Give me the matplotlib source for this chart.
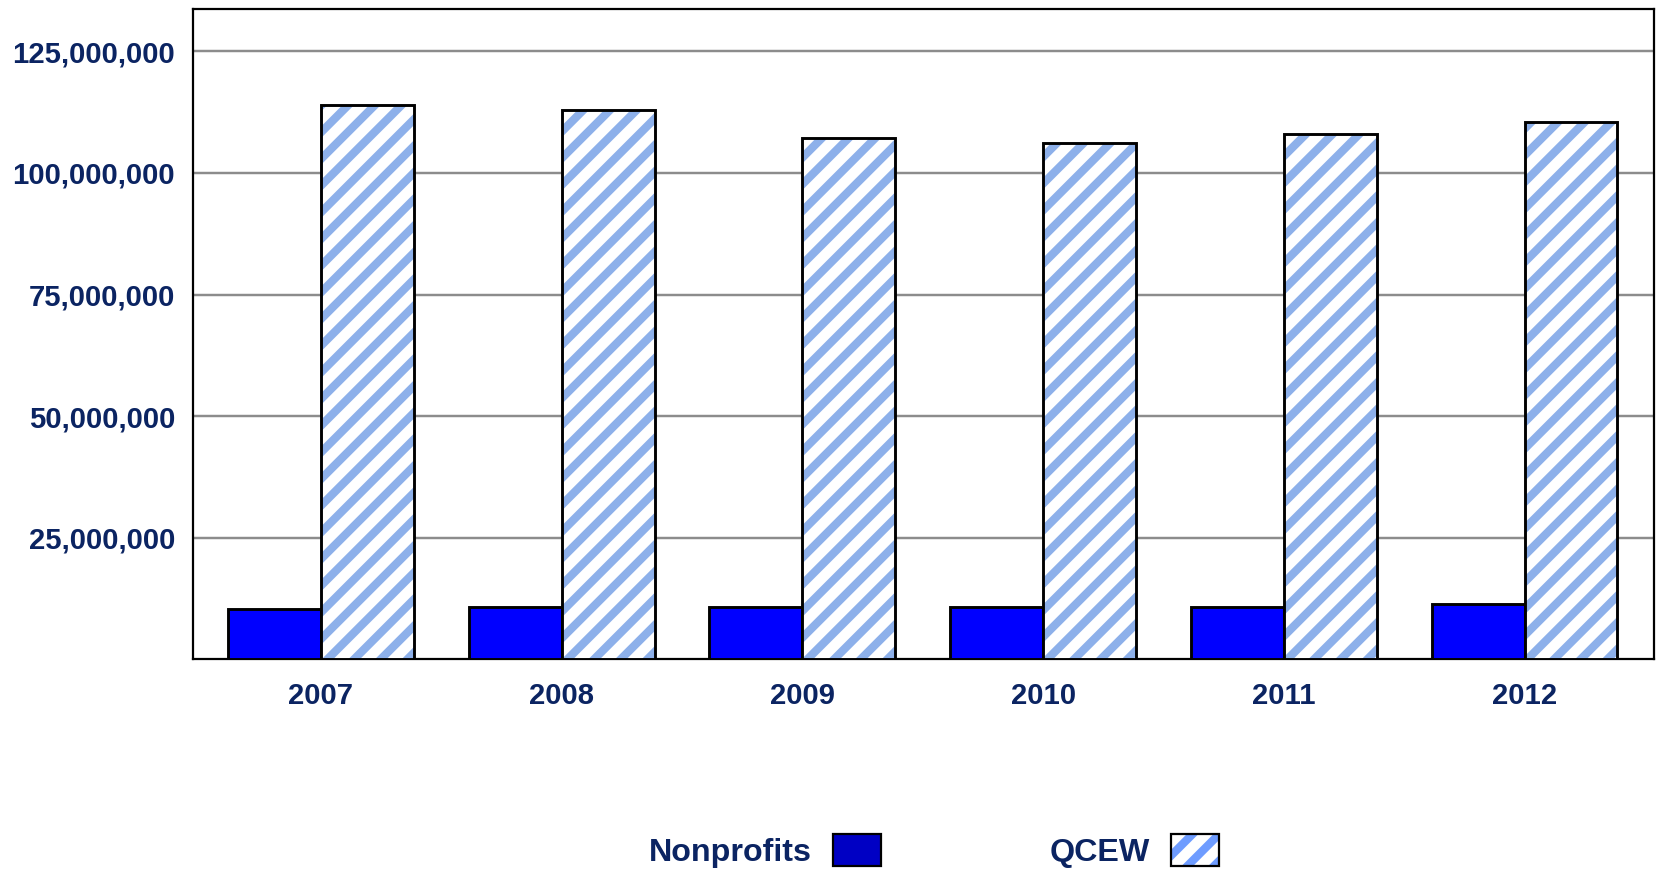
import matplotlib
matplotlib.use("Agg")
import matplotlib.pyplot as plt
import numpy as np
from matplotlib.patches import Patch
from matplotlib.legend_handler import HandlerTuple
from matplotlib.ticker import FuncFormatter

years = ["2007", "2008", "2009", "2010", "2011", "2012"]
nonprofits = [10400000, 10800000, 10800000, 10800000, 10800000, 11400000]
qcew = [114000000, 113000000, 107100000, 106100000, 108100000, 110500000]
y_ticks = [25000000, 50000000, 75000000, 100000000, 125000000]

DPI = 160
TXT = "#0b2462"
HATCH_C = "#8db0ea"
plt.rcParams["font.family"] = ["Liberation Sans", "DejaVu Sans"]
plt.rcParams["font.weight"] = "bold"
plt.rcParams["hatch.linewidth"] = 3.7

fig = plt.figure(figsize=(1656 / DPI, 870 / DPI), dpi=DPI)
ax = fig.add_axes([0.1165, 0.2420, 0.9988 - 0.1165, 0.9897 - 0.2420])

x = np.arange(len(years))
w = 0.386
ax.bar(x - w / 2, nonprofits, width=w, color="#0000ff", edgecolor="black", linewidth=1.3, zorder=3)
ax.bar(x + w / 2, qcew, width=w, color="white", edgecolor=HATCH_C, hatch="//", linewidth=0, zorder=3)
ax.bar(x + w / 2, qcew, width=w, facecolor="none", edgecolor="black", linewidth=1.3, zorder=4)

ax.set_xlim(-0.532, 5.538)
ax.set_ylim(0, 133700000)
ax.set_yticks(y_ticks)
ax.yaxis.set_major_formatter(FuncFormatter(lambda v, p: f"{int(v):,}"))
ax.set_xticks(x)
ax.set_xticklabels(years)
ax.tick_params(axis="y", length=0, pad=8.0, labelsize=13.2, labelcolor=TXT)
ax.tick_params(axis="x", length=0, pad=10.0, labelsize=13.2, labelcolor=TXT)
for lab in ax.get_xticklabels() + ax.get_yticklabels():
    lab.set_fontweight("bold")

ax.grid(axis="y", color="#8c8c8c", linewidth=1.1, zorder=0)
ax.set_axisbelow(True)
for s in ax.spines.values():
    s.set_color("black")
    s.set_linewidth(1.0)

h1 = Patch(facecolor="#0000c4", edgecolor="black", linewidth=1.0)
h2a = Patch(facecolor="white", edgecolor="#6e9cff", hatch="//", linewidth=0)
h2b = Patch(facecolor="none", edgecolor="black", linewidth=1.0)
leg = fig.legend([h1, (h2a, h2b)], ["Nonprofits", "QCEW"], ncol=2, loc="center",
                 bbox_to_anchor=(0.564, 0.022), frameon=False, markerfirst=False,
                 handler_map={tuple: HandlerTuple(ndivide=1)},
                 handlelength=1.49, handleheight=1.15, handletextpad=0.65,
                 columnspacing=5.25, prop={"size": 14.5, "weight": "bold"})
for t in leg.get_texts():
    t.set_color(TXT)

fig.savefig("out.png", dpi=DPI)
